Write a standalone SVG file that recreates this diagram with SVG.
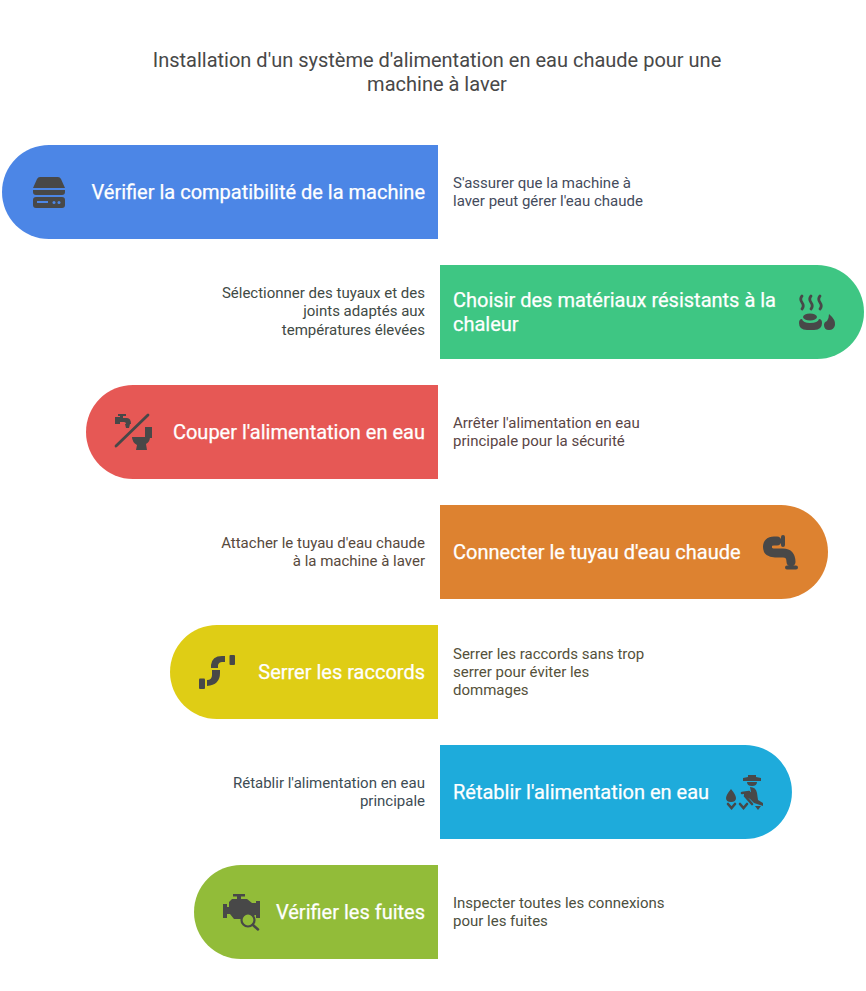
<svg xmlns="http://www.w3.org/2000/svg" width="866" height="991" viewBox="0 0 866 991">
<style>
text{font-family:Roboto,"Liberation Sans",sans-serif}
.t{font-size:20px;fill:#484848}
.h{font-size:20px;fill:#fff;font-weight:400;stroke:#fff;stroke-width:.25px}
.d{font-size:15px}
.e{text-anchor:end}
.m{text-anchor:middle}
.i{fill:#484848;stroke:none}
.l{fill:none;stroke:#484848;stroke-linecap:round}
</style>
<rect width="866" height="991" fill="#fff"/>
<g id="title"><text class="t m" x="437" y="67">Installation d'un système d'alimentation en eau chaude pour une</text><text class="t m" x="437" y="91">machine à laver</text></g>
<g id="connectors"></g>
<g id="n1"><path d="M438 145H49a47 47 0 0 0 0 94H438Z" fill="#4c86e6"/>
<path class="i" d="M40 177H58Q60 177 61 179L65 188H33L37 179Q38 177 40 177ZM33 190H65V192Q65 195 62 195H36Q33 195 33 192ZM36 197H62Q65 197 65 200V205Q65 208 62 208H36Q33 208 33 205V200Q33 197 36 197Z"/>
<rect x="37" y="201" width="11" height="2" fill="#4c86e6"/><circle cx="54" cy="202.500" r="1.500" fill="#4c86e6"/><circle cx="59" cy="202.500" r="1.500" fill="#4c86e6"/>
<text class="h e" x="425" y="199">Vérifier la compatibilité de la machine</text>
<g class="d" fill="#444b5c"><text x="453" y="188">S'assurer que la machine à</text><text x="453" y="206">laver peut gérer l'eau chaude</text></g></g>
<g id="n2"><path d="M440 265H817a47 47 0 0 1 0 94H440Z" fill="#3ec683"/>
<path class="l" stroke-width="2.800" d="M802 296q-2.500 3 0 6.500t0 6.500M811 296q-2.500 3 0 6.500t0 6.500M820 296q-2.500 3 0 6.500t0 6.500"/>
<ellipse class="i" cx="810" cy="317" rx="7" ry="3.500"/>
<path class="i" d="M802 319Q799 319 799 323Q799 330 807 330H814Q822 330 822 323Q822 319 819 319Q818 323 810 323Q803 323 802 319ZM829 314Q836 320 835 325Q834 330 829 330Q824 330 824 325Q824 322 827 321Q829 318 829 314Z"/>
<text class="h" x="453" y="307">Choisir des matériaux résistants à la</text><text class="h" x="453" y="331">chaleur</text>
<g class="d" fill="#3f4a45"><text class="e" x="425" y="298">Sélectionner des tuyaux et des</text><text class="e" x="425" y="316">joints adaptés aux</text><text class="e" x="425" y="335">températures élevées</text></g></g>
<g id="n3"><path d="M438 385H133a47 47 0 0 0 0 94H438Z" fill="#e65855"/>
<path class="l" stroke-width="2.800" d="M116 446L148 415"/>
<path class="i" d="M118 414H126V416H123V418H127Q131 418 131 424H126Q126 422 124 422H120V424H115V417H120V416H118ZM125 424H130L129 428H126Z"/>
<path class="i" d="M145 427H152V438H145ZM132 437H150Q150 442 146 444L147 450H136L137 445Q132 442 132 437Z"/>
<text class="h e" x="425" y="439">Couper l'alimentation en eau</text>
<g class="d" fill="#5a4545"><text x="453" y="428">Arrêter l'alimentation en eau</text><text x="453" y="446">principale pour la sécurité</text></g></g>
<g id="n4"><path d="M440 505H781a47 47 0 0 1 0 94H440Z" fill="#dd8230"/>
<path class="l" stroke-width="9" d="M777 541H774Q767.500 541 767.500 547Q767.500 553 775 553H783Q791 553 791 562"/>
<path class="l" stroke-width="4" d="M783 537V545M787 567.500H796"/>
<text class="h" x="453" y="559">Connecter le tuyau d'eau chaude</text>
<g class="d" fill="#57493c"><text class="e" x="425" y="548">Attacher le tuyau d'eau chaude</text><text class="e" x="425" y="566">à la machine à laver</text></g></g>
<g id="n5"><path d="M438 625H217a47 47 0 0 0 0 94H438Z" fill="#dfcd15"/>
<path class="i" d="M225 656V662H222Q219 662 218 665V668H211V665Q212 656 222 656ZM212 670H220V673Q220 685 207 686V680Q212 680 212 675Z"/>
<rect class="i" x="229.500" y="655" width="5.500" height="10" rx="1"/><rect class="i" x="199" y="678.500" width="6" height="10.500" rx="1"/>
<text class="h e" x="425" y="679">Serrer les raccords</text>
<g class="d" fill="#55513a"><text x="453" y="659">Serrer les raccords sans trop</text><text x="453" y="677">serrer pour éviter les</text><text x="453" y="695">dommages</text></g></g>
<g id="n6"><path d="M440 745H745a47 47 0 0 1 0 94H440Z" fill="#1eabdb"/>
<path class="i" d="M748 775H756V777L761 778V781H743V778L748 777ZM747 782H757Q757 786 752 786Q747 786 747 782ZM750 787Q756 787 757 793L758 800L763 803V806L754 803L750 799L744 796V793L751 792Z"/>
<path class="l" stroke-width="2.600" d="M742 793L749 792M745 796L752 804M728 804l3.500 4 3.500-4M740 804l3.500 4 3.500-4"/>
<path class="i" d="M731 789Q736 795 736 798Q736 802 731 802Q726 802 726 798Q726 795 731 789ZM755 806H761L758 810Z"/>
<text class="h" x="453" y="799">Rétablir l'alimentation en eau</text>
<g class="d" fill="#3d4c54"><text class="e" x="425" y="788">Rétablir l'alimentation en eau</text><text class="e" x="425" y="806">principale</text></g></g>
<g id="n7"><path d="M438 865H241a47 47 0 0 0 0 94H438Z" fill="#92bc39"/>
<path class="i" d="M233 894H245V896.500H241V899H247L252 903H256V901H260V918H256V915H255L250 919H234L230 914H227V918H223V904H227V907H229V902L232 899H237V896.500H233Z"/>
<circle cx="248" cy="920" r="6.500" fill="#92bc39" stroke="#484848" stroke-width="2.200"/>
<path class="l" stroke-width="2.500" d="M253 925L258 929.500"/>
<text class="h e" x="425" y="919">Vérifier les fuites</text>
<g class="d" fill="#4c5040"><text x="453" y="908">Inspecter toutes les connexions</text><text x="453" y="926">pour les fuites</text></g></g>
</svg>
